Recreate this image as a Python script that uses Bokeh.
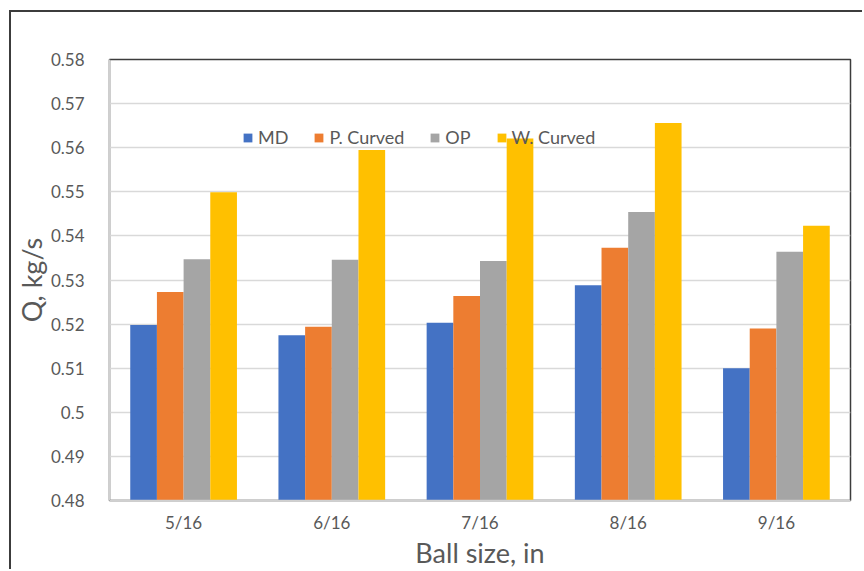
from bokeh.plotting import figure
from bokeh.models import ColumnDataSource, Range1d, FixedTicker
from bokeh.transform import dodge
from bokeh.embed import file_html
from bokeh.resources import INLINE

# ---- data ----
sizes = ["5/16", "6/16", "7/16", "8/16", "9/16"]
md = [0.5198, 0.5175, 0.5203, 0.5288, 0.5100]
p_curved = [0.5273, 0.5194, 0.5264, 0.5373, 0.5190]
op = [0.5347, 0.5346, 0.5343, 0.5454, 0.5364]
w_curved = [0.5499, 0.5595, 0.5621, 0.5656, 0.5423]
series_names = ["MD", "P. Curved", "OP", "W. Curved"]
y_ticks = [0.48, 0.49, 0.50, 0.51, 0.52, 0.53, 0.54, 0.55, 0.56, 0.57, 0.58]
y_tick_labels = ["0.48", "0.49", "0.5", "0.51", "0.52", "0.53", "0.54", "0.55", "0.56", "0.57", "0.58"]

colors = ["#4472C4", "#ED7D31", "#A5A5A5", "#FFC000"]
FONT = "Lato"
TXT = "#595959"

source = ColumnDataSource(dict(size=sizes, md=md, pc=p_curved, op=op, wc=w_curved))

p = figure(x_range=sizes, y_range=Range1d(0.48, 0.58), width=853, height=559,
           output_backend="svg", toolbar_location=None, title=None,
           min_border_left=98, min_border_top=47, min_border_right=14, min_border_bottom=71)
p.styles = {"margin-left": "9px", "margin-top": "10px",
            "border-left": "2px solid #3c3c3c", "border-top": "2px solid #3c3c3c"}

cols = ["md", "pc", "op", "wc"]
offsets = [-0.27, -0.09, 0.09, 0.27]
for col, off, c, name in zip(cols, offsets, colors, series_names):
    p.vbar(x=dodge("size", off, range=p.x_range), top=col, bottom=0.48, width=0.18,
           source=source, fill_color=c, line_color=None, legend_label=name)

p.outline_line_color = "#3c3c3c"
p.outline_line_width = 1.5
p.xgrid.grid_line_color = None
p.ygrid.grid_line_color = "#d9d9d9"
p.ygrid.grid_line_width = 1.5

p.yaxis.ticker = FixedTicker(ticks=y_ticks)
p.yaxis.major_label_overrides = dict(zip(y_ticks, y_tick_labels))
for ax in (p.xaxis[0], p.yaxis[0]):
    ax.axis_line_color = "#d0d0d0"
    ax.axis_line_width = 1.5
    ax.major_tick_line_color = None
    ax.minor_tick_line_color = None
    ax.major_label_text_font = FONT
    ax.major_label_text_font_size = "17px"
    ax.major_label_text_color = TXT
    ax.axis_label_text_font = FONT
    ax.axis_label_text_font_size = "27px"
    ax.axis_label_text_font_style = "normal"
    ax.axis_label_text_color = TXT

p.yaxis.major_label_standoff = 19
p.yaxis.axis_label = "Q, kg/s"
p.yaxis.axis_label_standoff = 0
p.xaxis.major_label_standoff = 5
p.xaxis.axis_label = "Ball size, in"
p.xaxis.axis_label_standoff = 0

lg = p.legend[0]
lg.orientation = "horizontal"
lg.location = (133, 352)
lg.background_fill_alpha = 0
lg.border_line_color = None
lg.padding = 0
lg.margin = 0
lg.spacing = 25
lg.label_standoff = 5
lg.glyph_width = 11
lg.glyph_height = 11
lg.label_text_font = FONT
lg.label_text_font_size = "18px"
lg.label_text_color = TXT

open("out.html", "w").write(file_html(p, INLINE))
